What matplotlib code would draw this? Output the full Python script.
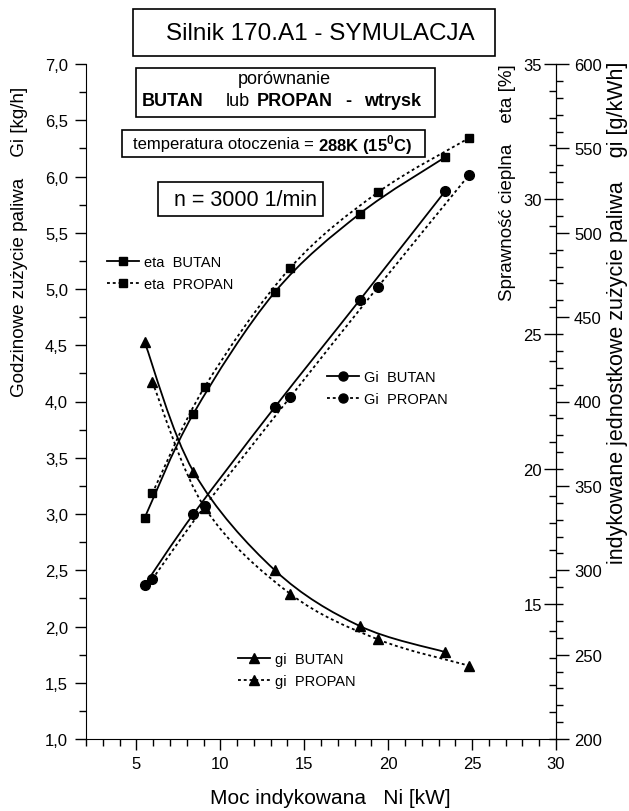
import numpy as np
import matplotlib
matplotlib.use('Agg')
import matplotlib.pyplot as plt
from matplotlib.lines import Line2D
from matplotlib.patches import Rectangle, PathPatch
from matplotlib.path import Path
from matplotlib.ticker import FixedLocator, FixedFormatter, MultipleLocator

plt.rcParams['font.family'] = ['Liberation Sans', 'DejaVu Sans']
plt.rcParams['mathtext.fontset'] = 'custom'
plt.rcParams['mathtext.rm'] = 'Liberation Sans'
plt.rcParams['mathtext.bf'] = 'Liberation Sans:bold'

# Moc indykowana Ni [kW]
ni_butan = [5.5, 8.4, 13.25, 18.3, 23.4]
ni_propan = [5.95, 9.08, 14.17, 19.4, 24.8]

# sprawnosc cieplna eta [%]
eta_butan = [18.2, 22.05, 26.55, 29.45, 31.55]
eta_propan = [19.1, 23.05, 27.45, 30.25, 32.25]

# godzinowe zuzycie paliwa Gi [kg/h]
Gi_butan = [2.37, 3.00, 3.95, 4.90, 5.87]
Gi_propan = [2.42, 3.07, 4.04, 5.02, 6.01]

# indykowane jednostkowe zuzycie paliwa gi [g/kWh]
gi_butan = [435, 358.5, 300, 267, 251.5]
gi_propan = [411.5, 337, 286, 259, 243.5]

x_ticks = [5, 10, 15, 20, 25, 30]
Gi_ticks = [1.0, 1.5, 2.0, 2.5, 3.0, 3.5, 4.0, 4.5, 5.0, 5.5, 6.0, 6.5, 7.0]
Gi_labels = ['1,0', '1,5', '2,0', '2,5', '3,0', '3,5', '4,0', '4,5', '5,0', '5,5', '6,0', '6,5', '7,0']
eta_ticks = [15, 20, 25, 30, 35]
gi_ticks = [200, 250, 300, 350, 400, 450, 500, 550, 600]

W, H = 629, 812


def fx(px):
    return px / W


def fy(py):
    return 1 - py / H


fig = plt.figure(figsize=(6.29, 8.12), dpi=100)
ax = fig.add_axes([fx(86), fy(740), fx(556) - fx(86), fy(65) - fy(740)])

ax.set_xlim(2, 30)
ax.set_ylim(1, 7)
ax.spines['top'].set_visible(False)
ax.spines['right'].set_visible(False)
ax.xaxis.set_major_locator(FixedLocator(x_ticks))
ax.xaxis.set_minor_locator(MultipleLocator(1))
ax.yaxis.set_major_locator(FixedLocator(Gi_ticks))
ax.yaxis.set_major_formatter(FixedFormatter(Gi_labels))
ax.yaxis.set_minor_locator(MultipleLocator(0.25))
ax.tick_params(which='major', direction='out', length=8, width=1, labelsize=12, pad=5)
ax.tick_params(which='minor', direction='out', length=5, width=1)
ax.tick_params(axis='x', which='major', pad=4)

# os eta - po lewej stronie prawej krawedzi
ax_eta = ax.twinx()
ax_eta.set_ylim(10, 35)
for s in ['top', 'right', 'bottom']:
    ax_eta.spines[s].set_visible(False)
ax_eta.spines['left'].set_position(('axes', 1.0))
ax_eta.yaxis.set_ticks_position('left')
ax_eta.yaxis.set_major_locator(FixedLocator(eta_ticks))
ax_eta.yaxis.set_minor_locator(MultipleLocator(1))
ax_eta.tick_params(which='major', direction='out', length=9, width=1, labelsize=12, pad=1)
ax_eta.tick_params(which='minor', direction='out', length=5, width=1)

# os gi - po prawej
ax_gi = ax.twinx()
ax_gi.set_ylim(200, 600)
for s in ['top', 'left', 'bottom']:
    ax_gi.spines[s].set_visible(False)
ax_gi.yaxis.set_major_locator(FixedLocator(gi_ticks))
ax_gi.yaxis.set_minor_locator(MultipleLocator(10))
ax_gi.tick_params(which='major', direction='out', length=9, width=1, labelsize=12, pad=4)
ax_gi.tick_params(which='minor', direction='out', length=5, width=1)

dots = (0, (1.6, 1.6))


def curve(a, x, y, ls, marker, ms):
    # gladka linia przez punkty (Catmull-Rom jako krzywe Beziera)
    p = np.column_stack([x, y]).astype(float)
    ext = np.vstack([p[0], p, p[-1]])
    verts = [tuple(p[0])]
    codes = [Path.MOVETO]
    for i in range(1, len(ext) - 2):
        c1 = ext[i] + (ext[i + 1] - ext[i - 1]) / 6
        c2 = ext[i + 1] - (ext[i + 2] - ext[i]) / 6
        verts += [tuple(c1), tuple(c2), tuple(ext[i + 1])]
        codes += [Path.CURVE4] * 3
    a.add_patch(PathPatch(Path(verts, codes), fill=False, ec='black', lw=1.3, linestyle=ls))
    a.plot(x, y, linestyle='none', marker=marker, ms=ms, color='black')


curve(ax_eta, ni_butan, eta_butan, '-', 's', 6)
curve(ax_eta, ni_propan, eta_propan, dots, 's', 6)
curve(ax, ni_butan, Gi_butan, '-', 'o', 7)
curve(ax, ni_propan, Gi_propan, dots, 'o', 7)
curve(ax_gi, ni_butan, gi_butan, '-', '^', 7.5)
curve(ax_gi, ni_propan, gi_propan, dots, '^', 7.5)


def legend(px, py, marker, ms, names):
    h = [Line2D([], [], color='black', lw=1.3, ls='-', marker=marker, ms=ms),
         Line2D([], [], color='black', lw=1.3, ls=dots, marker=marker, ms=ms)]
    fig.legend(h, names, loc='upper left', bbox_to_anchor=(fx(px), fy(py)),
               frameon=False, fontsize=10.5, handlelength=2.2, handletextpad=0.35,
               borderpad=0, borderaxespad=0, labelspacing=0.55)


legend(107, 256, 's', 5.5, ['eta  BUTAN', 'eta  PROPAN'])
legend(327, 371, 'o', 6.5, ['Gi  BUTAN', 'Gi  PROPAN'])
legend(238, 653, '^', 7, ['gi  BUTAN', 'gi  PROPAN'])


def box(x0, y0, x1, y1):
    fig.add_artist(Rectangle((fx(x0), fy(y1)), fx(x1) - fx(x0), fy(y0) - fy(y1),
                             transform=fig.transFigure, fill=False, lw=1.2, ec='black'))


box(133, 10, 495, 57)
fig.text(fx(320), fy(34), 'Silnik 170.A1 - SYMULACJA', fontsize=17.5, ha='center', va='center')

box(136, 69, 435, 118)
fig.text(fx(284), fy(80), 'porównanie', fontsize=13, ha='center', va='center')
fig.text(fx(142), fy(102), 'BUTAN', fontsize=13, fontweight='bold', ha='left', va='center')
fig.text(fx(226), fy(102), 'lub', fontsize=13, ha='left', va='center')
fig.text(fx(257), fy(102), 'PROPAN', fontsize=13, fontweight='bold', ha='left', va='center')
fig.text(fx(345), fy(102), '-', fontsize=13, fontweight='bold', ha='left', va='center')
fig.text(fx(364), fy(102), 'wtrysk', fontsize=13, fontweight='bold', ha='left', va='center')

box(122, 131, 425, 158)
t1 = fig.text(fx(133), fy(145), 'temperatura otoczenia = ', fontsize=12, ha='left', va='center')
r = fig.canvas.get_renderer()
x_end = t1.get_window_extent(renderer=r).x1
fig.text(x_end / W, fy(145), r'288K (15$^{\mathbf{0}}$C)', fontsize=12, fontweight='bold',
         ha='left', va='center')

box(158, 183, 323, 217)
fig.text(fx(245), fy(200), 'n = 3000 1/min', fontsize=15.5, ha='center', va='center')

fig.text(fx(330), fy(799), 'Moc indykowana   Ni [kW]', fontsize=15, ha='center', va='center')
fig.text(fx(20), fy(242), 'Godzinowe zużycie paliwa    Gi [kg/h]', fontsize=13.5,
         rotation=90, ha='center', va='center')
fig.text(fx(508), fy(64), 'Sprawność cieplna    eta [%]', fontsize=13.5,
         rotation=90, ha='center', va='top')
fig.text(fx(618), fy(62), 'indykowane jednostkowe zużycie paliwa    gi [g/kWh]', fontsize=15.5,
         rotation=90, ha='center', va='top')

fig.savefig('out.png', dpi=100)
